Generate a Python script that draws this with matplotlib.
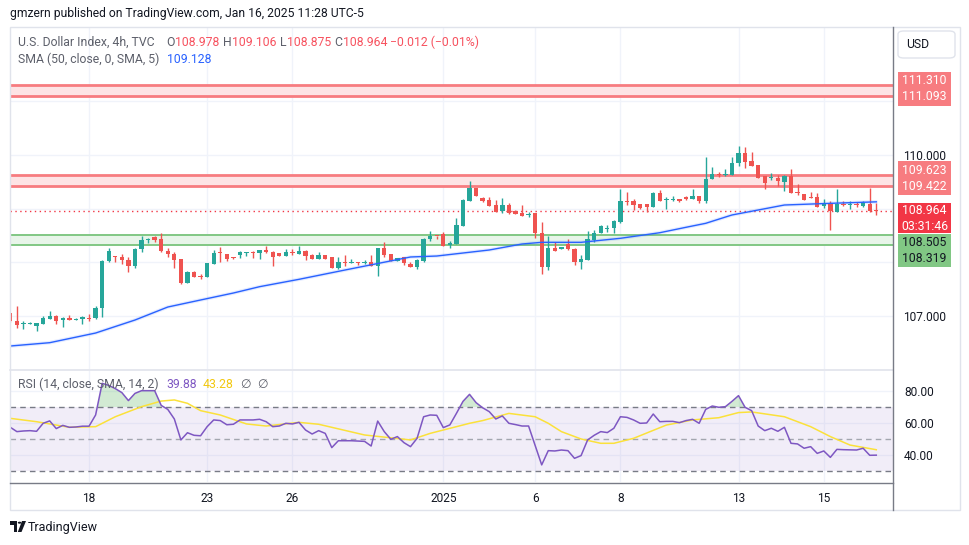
import matplotlib
matplotlib.use("Agg")
import matplotlib.pyplot as plt
import matplotlib.patches as patches
import numpy as np

plt.rcParams['font.family'] = ['Roboto', 'DejaVu Sans']

# ---- 4h candles, U.S. Dollar Index ----
opens = [107.05, 106.909, 106.853, 106.859, 106.822, 106.853, 106.952, 107.008, 106.921, 106.965,
         106.934, 106.940, 106.958, 106.958, 107.145, 108.032, 108.107, 108.101, 108.051, 107.939,
         108.256, 108.411, 108.467, 108.436, 108.219, 108.156, 108.063, 107.623, 107.815, 107.747,
         107.734, 107.976, 108.181, 108.157, 108.101, 108.138, 108.175, 108.194, 108.181, 108.225,
         108.188, 108.169, 108.125, 108.188, 108.163, 108.206, 108.138, 108.070, 108.138, 108.101,
         107.902, 108.008, 107.995, 108.008, 107.995, 108.001, 107.939, 108.268, 108.157, 108.032,
         108.101, 107.976, 107.914, 108.026, 108.430, 108.498, 108.529, 108.324, 108.343, 108.684,
         109.150, 109.392, 109.199, 109.162, 109.069, 108.951, 109.069, 108.957, 108.920, 108.883,
         108.920, 108.547, 107.921, 108.268, 108.243, 108.343, 108.250, 108.014, 108.051, 108.423,
         108.541, 108.616, 108.634, 108.746, 109.143, 109.137, 109.094, 109.088, 109.026, 109.286,
         109.156, 109.168, 109.181, 109.218, 109.187, 109.237, 109.143, 109.547, 109.652, 109.634,
         109.634, 109.845, 110.031, 109.888, 109.808, 109.609, 109.565, 109.572, 109.491, 109.609,
         109.299, 109.274, 109.224, 109.218, 109.056, 109.106, 108.945, 109.088, 109.063, 109.081,
         109.050, 109.088, 108.978]
highs = [107.06, 107.194, 106.909, 106.884, 106.872, 106.996, 107.095, 107.021, 106.983, 107.021,
         106.958, 107.008, 107.033, 107.182, 108.051, 108.262, 108.119, 108.150, 108.094, 108.274,
         108.492, 108.448, 108.492, 108.541, 108.262, 108.200, 108.063, 107.846, 107.834, 107.778,
         107.983, 108.225, 108.287, 108.157, 108.107, 108.212, 108.188, 108.212, 108.225, 108.305,
         108.212, 108.169, 108.250, 108.250, 108.305, 108.225, 108.150, 108.194, 108.138, 108.101,
         108.101, 108.138, 108.063, 108.008, 108.039, 108.138, 108.268, 108.380, 108.157, 108.082,
         108.101, 108.001, 108.057, 108.461, 108.579, 108.498, 108.566, 108.399, 108.827, 109.174,
         109.516, 109.392, 109.212, 109.212, 109.162, 109.199, 109.100, 108.976, 109.069, 108.932,
         108.920, 108.752, 108.492, 108.374, 108.281, 108.430, 108.274, 108.138, 108.585, 108.603,
         108.690, 108.690, 108.790, 109.367, 109.311, 109.187, 109.094, 109.088, 109.305, 109.348,
         109.224, 109.237, 109.181, 109.237, 109.367, 109.237, 109.969, 109.783, 109.690, 109.733,
         109.969, 110.168, 110.143, 110.062, 109.808, 109.609, 109.671, 109.634, 109.621, 109.745,
         109.460, 109.274, 109.311, 109.286, 109.174, 109.150, 109.367, 109.137, 109.143, 109.119,
         109.137, 109.392, 109.106]
lows = [106.89, 106.785, 106.766, 106.847, 106.729, 106.853, 106.952, 106.859, 106.803, 106.934,
        106.921, 106.847, 106.909, 106.940, 106.989, 108.001, 108.014, 107.976, 107.827, 107.902,
        108.200, 108.355, 108.386, 108.200, 108.107, 107.902, 107.604, 107.623, 107.734, 107.691,
        107.734, 107.976, 108.014, 108.032, 108.070, 108.076, 108.125, 108.088, 108.057, 108.175,
        107.939, 108.125, 108.125, 108.138, 108.163, 108.039, 108.070, 108.070, 108.070, 107.902,
        107.883, 107.933, 107.995, 107.958, 107.976, 107.933, 107.753, 108.107, 108.032, 108.032,
        107.952, 107.921, 107.883, 108.014, 108.405, 108.430, 108.305, 108.274, 108.343, 108.684,
        109.150, 109.243, 109.131, 109.057, 108.932, 108.914, 108.901, 108.908, 108.870, 108.839,
        108.448, 107.778, 107.859, 108.219, 108.243, 108.231, 107.958, 107.871, 108.051, 108.386,
        108.541, 108.572, 108.554, 108.728, 109.069, 108.970, 108.988, 108.945, 109.026, 109.143,
        108.994, 109.143, 109.131, 109.162, 109.187, 109.100, 109.100, 109.547, 109.597, 109.615,
        109.634, 109.795, 109.758, 109.801, 109.578, 109.361, 109.534, 109.423, 109.336, 109.286,
        109.255, 109.162, 109.205, 109.038, 109.019, 108.603, 108.945, 109.044, 108.988, 109.038,
        109.032, 108.945, 108.875]
closes = [106.90, 106.834, 106.878, 106.878, 106.872, 106.965, 107.008, 106.915, 106.965, 106.934,
          106.952, 106.977, 106.946, 107.145, 108.032, 108.212, 108.094, 108.039, 107.939, 108.250,
          108.417, 108.423, 108.417, 108.206, 108.150, 108.045, 107.616, 107.815, 107.734, 107.734,
          107.983, 108.169, 108.169, 108.070, 108.082, 108.188, 108.188, 108.181, 108.225, 108.194,
          108.107, 108.125, 108.188, 108.169, 108.206, 108.125, 108.070, 108.138, 108.070, 107.902,
          108.001, 107.995, 108.008, 107.995, 108.008, 107.933, 108.268, 108.138, 108.032, 108.082,
          107.983, 107.921, 108.039, 108.436, 108.498, 108.486, 108.305, 108.361, 108.697, 109.162,
          109.392, 109.243, 109.150, 109.057, 108.945, 109.069, 108.926, 108.908, 108.870, 108.908,
          108.541, 107.921, 108.268, 108.219, 108.281, 108.243, 108.014, 108.063, 108.436, 108.548,
          108.678, 108.647, 108.771, 109.143, 109.131, 109.075, 109.007, 109.026, 109.286, 109.143,
          109.181, 109.187, 109.143, 109.187, 109.243, 109.150, 109.547, 109.652, 109.634, 109.652,
          109.857, 110.043, 109.876, 109.801, 109.578, 109.485, 109.584, 109.510, 109.609, 109.286,
          109.286, 109.162, 109.205, 109.038, 109.106, 108.957, 109.081, 109.075, 109.081, 109.063,
          109.100, 108.957, 108.964]

# SMA (50) read at a few candles
sma_idx = [0, 6, 13, 19, 24, 29, 34, 38, 44, 51, 61, 65, 73, 78, 81, 87, 93, 99, 103, 106, 110, 118, 125, 132]
sma_val = [106.443, 106.505, 106.685, 106.927, 107.169, 107.300, 107.430, 107.548, 107.685, 107.858,
           108.101, 108.119, 108.231, 108.343, 108.374, 108.374, 108.449, 108.553, 108.654, 108.728,
           108.883, 109.069, 109.100, 109.128]

# RSI (14) per candle
rsi = [57.3, 54.6, 55.0, 55.2, 54.8, 59.8, 61.3, 56.5, 58.5, 57.3,
       57.5, 58.0, 58.0, 65.0, 84.8, 83.5, 81.5, 79.0, 74.0, 78.5,
       80.2, 80.2, 80.2, 71.0, 68.5, 62.5, 49.4, 53.9, 52.3, 52.0,
       57.7, 61.9, 61.5, 58.9, 59.2, 61.9, 61.9, 61.9, 62.3, 60.8,
       57.7, 58.1, 59.8, 59.4, 60.4, 55.6, 53.1, 55.2, 53.5, 44.6,
       48.9, 48.9, 48.9, 48.7, 48.5, 45.6, 61.2, 54.6, 49.8, 51.5,
       47.7, 45.2, 50.4, 63.9, 65.0, 64.8, 57.1, 58.8, 66.0, 73.5,
       77.9, 72.7, 69.5, 67.1, 62.5, 64.4, 59.8, 59.0, 58.1, 58.1,
       46.0, 33.8, 42.7, 42.5, 43.1, 42.7, 37.9, 39.6, 49.4, 52.3,
       54.6, 54.0, 56.7, 63.9, 63.5, 61.9, 59.8, 60.0, 65.6, 60.8,
       61.0, 61.0, 60.2, 61.5, 62.3, 59.8, 68.5, 70.6, 69.8, 70.2,
       73.5, 77.1, 69.8, 67.7, 58.1, 55.2, 56.7, 54.8, 57.3, 47.3,
       46.9, 44.2, 45.2, 41.0, 42.5, 38.5, 43.5, 43.3, 43.2, 43.1,
       44.2, 39.8, 39.88]

# RSI-based MA read at a few candles
rsima_idx = [0, 4, 9, 13, 16, 20, 23, 25, 27, 29, 32, 36, 39, 44, 47, 54, 61, 64, 70, 72, 76,
             80, 82, 84, 87, 90, 92, 95, 100, 104, 108, 111, 113, 118, 122, 125, 128, 132]
rsima_val = [62.9, 60.8, 57.3, 57.7, 63.9, 70.2, 73.7, 74.4, 72.3, 67.7, 65.0, 59.4, 58.1, 60.4,
             59.2, 52.5, 49.4, 53.5, 59.8, 61.5, 66.0, 63.9, 59.8, 54.6, 50.0, 47.3, 47.3, 50.4,
             58.7, 61.9, 63.3, 66.5, 66.9, 63.9, 57.7, 51.5, 46.2, 43.28]

tick_idx = [12, 30, 43, 66, 80, 93, 111, 124]
tick_lab = ['18', '23', '26', '2025', '6', '8', '13', '15']

red_zone = (111.093, 111.310)
red_zone2 = (109.422, 109.623)
green_zone = (108.319, 108.505)
last_price = 108.964

UP = '#26a69a'
DN = '#ef5350'
GRID = '#f0f3fa'
TXT = '#131722'
GREY = '#5d606b'

W, H = 970, 545
fig = plt.figure(figsize=(W / 100, H / 100), dpi=100)


def fx(x):
    return x / W


def fy(y):
    return 1 - y / H


def ftext(x, y, s, **kw):
    kw.setdefault('fontsize', 8.8)
    kw.setdefault('va', 'center')
    fig.text(fx(x), fy(y), s, **kw)


def frect(x0, y0, x1, y1, **kw):
    fig.add_artist(patches.Rectangle((fx(x0), fy(y1)), fx(x1) - fx(x0), fy(y0) - fy(y1),
                                     transform=fig.transFigure, **kw))


def fline(x0, y0, x1, y1, **kw):
    fig.add_artist(plt.Line2D([fx(x0), fx(x1)], [fy(y0), fy(y1)], transform=fig.transFigure, **kw))


# outer frame
frect(10, 27, 960, 510, fill=False, edgecolor='#e0e3eb', lw=1)

# ---- main price pane ----
ax = fig.add_axes([fx(10), fy(369), fx(893) - fx(10), fy(27) - fy(369)])
ax.set_xlim(-0.05, 134.55)
ax.set_ylim(106.015, 112.384)
for s in ax.spines.values():
    s.set_visible(False)
ax.set_xticks(tick_idx)
ax.set_xticklabels([])
ax.tick_params(axis='x', length=0)
ax.yaxis.tick_right()
ax.set_yticks([107, 108, 109, 110, 111])
ax.set_yticklabels(['107.000', '', '', '110.000', ''], color=TXT, fontsize=8.6)
ax.tick_params(axis='y', length=0, pad=7)
ax.grid(True, color=GRID, lw=1)
ax.set_axisbelow(True)

for lo, hi in [red_zone, red_zone2]:
    ax.axhspan(lo, hi, color='#fde4e5', lw=0, zorder=1)
    ax.axhline(lo, color='#f77c80', lw=2, zorder=2)
    ax.axhline(hi, color='#f77c80', lw=2, zorder=2)
ax.axhspan(green_zone[0], green_zone[1], color='#e8f5e9', lw=0, zorder=1)
ax.axhline(green_zone[0], color='#81c784', lw=1.4, zorder=2)
ax.axhline(green_zone[1], color='#81c784', lw=1.4, zorder=2)
ax.axhline(last_price, color='#f23645', lw=1, ls=(0, (1, 2.5)), zorder=2)

idx = np.arange(len(opens))
o = np.array(opens)
c = np.array(closes)
cols = np.where(c >= o, UP, DN)
ax.vlines(idx, lows, highs, colors=cols, lw=1, zorder=3)
ax.bar(idx, np.maximum(np.abs(c - o), 0.02), bottom=np.minimum(o, c), width=0.66,
       color=cols, zorder=4, lw=0)

ax.plot(sma_idx, sma_val, color='#2962ff', lw=2.6, alpha=0.12, zorder=3, solid_capstyle='round')
ax.plot(sma_idx, sma_val, color='#2962ff', lw=1.0, zorder=5)

# ---- RSI pane ----
ax2 = fig.add_axes([fx(10), fy(482), fx(893) - fx(10), fy(371) - fy(482)])
ax2.set_xlim(-0.05, 134.55)
ax2.set_ylim(23.1, 92.5)
for s in ax2.spines.values():
    s.set_visible(False)
ax2.yaxis.tick_right()
ax2.set_yticks([40, 60, 80])
ax2.set_yticklabels(['40.00', '60.00', '80.00'], color=TXT, fontsize=8.6)
ax2.tick_params(axis='y', length=0, pad=8)
ax2.set_xticks(tick_idx)
ax2.set_xticklabels(tick_lab, color=TXT, fontsize=8.6)
ax2.tick_params(axis='x', length=0, pad=7)
ax2.grid(True, color=GRID, lw=1)
ax2.set_axisbelow(True)

ax2.axhspan(30, 70, color='#7e57c2', alpha=0.1, lw=0)
for lev, col in [(70, '#787b86'), (50, '#a3a6af'), (30, '#787b86')]:
    ax2.axhline(lev, color=col, lw=1, ls=(0, (4, 3)))
r = np.array(rsi)
ax2.fill_between(idx, r, 70, where=r > 70, interpolate=True, color='#4caf50', alpha=0.25, lw=0)
ax2.plot(rsima_idx, rsima_val, color='#fbe13a', lw=1.1, zorder=4)
ax2.plot(idx, r, color='#7e57c2', lw=1.1, zorder=5)

# separators
fline(10, 369.5, 893, 369.5, color='#e0e3eb', lw=1.2)
fline(10, 482.5, 893, 482.5, color='#787b86', lw=1)
fline(893.5, 27, 893.5, 510, color='#787b86', lw=1)

# ---- legends ----
ftext(10, 14, 'gmzern published on TradingView.com, Jan 16, 2025 11:28 UTC-5', color=TXT, fontsize=8.7)
ftext(18, 42, 'U.S. Dollar Index, 4h, TVC', color=GREY)
red_txt = '#f7525f'
for x, s, col in [(166, 'O', GREY), (175, '108.978', red_txt), (223, 'H', GREY), (232, '109.106', red_txt),
                  (280, 'L', GREY), (287, '108.875', red_txt), (334, 'C', GREY), (343, '108.964', red_txt),
                  (390, '\u22120.012 (\u22120.01%)', red_txt)]:
    ftext(x, 42, s, color=col)
ftext(18, 59, 'SMA (50, close, 0, SMA, 5)', color=GREY)
ftext(167, 59, '109.128', color='#2962ff')
ftext(18, 384, 'RSI (14, close, SMA, 14, 2)', color=GREY)
ftext(166, 384, '39.88', color='#7e57c2')
ftext(203, 384, '43.28', color='#f2c80f')
ftext(240, 384, '\u2205', color=GREY)
ftext(257, 384, '\u2205', color=GREY)

# ---- price scale labels ----
fig.add_artist(patches.FancyBboxPatch((fx(898), fy(58)), fx(955) - fx(898), fy(31) - fy(58),
                                      boxstyle='round,pad=0,rounding_size=0.006',
                                      transform=fig.transFigure, facecolor='white',
                                      edgecolor='#e0e3eb', lw=1))
ftext(906, 44.5, 'USD', color=TXT)

for y0, y1, col, t1, t2, tc in [(72, 106, '#f77c80', '111.310', '111.093', 'white'),
                                (161, 195, '#f77c80', '109.623', '109.422', 'white'),
                                (203, 233, '#f23645', '108.964', '03:31:46', 'white'),
                                (234, 267, '#81c784', '108.505', '108.319', TXT)]:
    frect(898, y0, 951, y1, facecolor=col, edgecolor='none')
    ym = (y0 + y1) / 2
    ftext(924.5, ym - 8, t1, color=tc, ha='center', fontsize=8.8)
    ftext(924.5, ym + 8, t2, color=tc, ha='center', fontsize=8.8)

# ---- TradingView logo ----
frect(10, 521, 17, 524.5, facecolor=TXT, edgecolor='none')
frect(13.5, 521, 17, 532, facecolor=TXT, edgecolor='none')
fig.add_artist(patches.Circle((fx(19.6), fy(522.7)), 1.8 / W, transform=fig.transFigure,
                              facecolor=TXT, edgecolor='none'))
fig.add_artist(patches.Polygon([(fx(22), fy(521)), (fx(26), fy(521)), (fx(21.5), fy(532)), (fx(17.8), fy(532))],
                               closed=True, transform=fig.transFigure, facecolor=TXT, edgecolor='none'))
ftext(28, 527, 'TradingView', color=TXT, fontsize=9)

fig.savefig('out.png', dpi=100)
